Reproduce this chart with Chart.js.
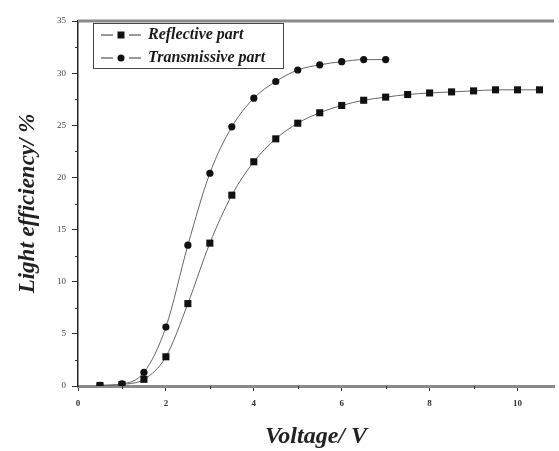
<!DOCTYPE html>
<html>
<head>
<meta charset="utf-8">
<script src="https://cdn.jsdelivr.net/npm/chart.js@4.4.1/dist/chart.umd.min.js"></script>
<style>
  html, body { margin: 0; padding: 0; background: #fff; }
  #wrap { width: 559px; height: 451px; }
</style>
</head>
<body>
<div id="wrap"><canvas id="efficiencyChart"></canvas></div>
<script>
// Data
const reflectiveVoltage = [0.5, 1, 1.5, 2, 2.5, 3, 3.5, 4, 4.5, 5, 5.5, 6, 6.5, 7, 7.5, 8, 8.5, 9, 9.5, 10, 10.5];
const reflectiveEff = [0.05, 0.15, 0.64, 2.8, 7.9, 13.7, 18.3, 21.5, 23.7, 25.2, 26.2, 26.9, 27.4, 27.7, 27.95, 28.1, 28.2, 28.3, 28.4, 28.4, 28.4];

const transmissiveVoltage = [0.5, 1, 1.5, 2, 2.5, 3, 3.5, 4, 4.5, 5, 5.5, 6, 6.5, 7];
const transmissiveEff = [0.06, 0.2, 1.3, 5.65, 13.5, 20.4, 24.85, 27.6, 29.2, 30.3, 30.8, 31.1, 31.3, 31.3];

const seriesLabels = ['Reflective part', 'Transmissive part'];
const xTicksMajor = [0, 2, 4, 6, 8, 10];
const xTicksMinor = [1, 3, 5, 7, 9];
const yTicksMinor = [2.5, 7.5, 12.5, 17.5, 22.5, 27.5, 32.5];

const serif = "'Liberation Serif', 'Times New Roman', serif";

function toPoints(xs, ys) {
    return xs.map((x, i) => ({ x, y: ys[i] }));
}

// Short minor ticks + heavy top frame line
const framePlugin = {
    id: 'frame',
    afterDraw(chart) {
        const { ctx, chartArea, scales } = chart;
        ctx.save();
        ctx.strokeStyle = '#8a8a8a';
        ctx.lineWidth = 3;
        ctx.beginPath();
        ctx.moveTo(chartArea.left, chartArea.top);
        ctx.lineTo(chartArea.right, chartArea.top);
        ctx.stroke();

        ctx.strokeStyle = '#333';
        ctx.lineWidth = 1;
        xTicksMinor.forEach(v => {
            const px = Math.round(scales.x.getPixelForValue(v)) + 0.5;
            ctx.beginPath();
            ctx.moveTo(px, chartArea.bottom);
            ctx.lineTo(px, chartArea.bottom + 3);
            ctx.stroke();
        });
        yTicksMinor.forEach(v => {
            const py = Math.round(scales.y.getPixelForValue(v)) + 0.5;
            ctx.beginPath();
            ctx.moveTo(chartArea.left, py);
            ctx.lineTo(chartArea.left - 3, py);
            ctx.stroke();
        });
        ctx.restore();
    }
};

// Boxed legend in the upper left corner
const boxLegendPlugin = {
    id: 'boxLegend',
    afterDraw(chart, args, opts) {
        const { ctx } = chart;
        ctx.save();
        ctx.strokeStyle = '#444';
        ctx.lineWidth = 1;
        ctx.strokeRect(opts.left + 0.5, opts.top + 0.5, opts.width, opts.height);
        ctx.font = "italic bold 16px " + serif;
        ctx.textBaseline = 'middle';
        chart.data.datasets.forEach((ds, i) => {
            const y = opts.top + opts.rowStart + i * opts.rowGap;
            const x0 = opts.left + 8;
            ctx.strokeStyle = '#333';
            ctx.beginPath();
            ctx.moveTo(x0, y);
            ctx.lineTo(x0 + 12, y);
            ctx.moveTo(x0 + 28, y);
            ctx.lineTo(x0 + 40, y);
            ctx.stroke();
            ctx.fillStyle = '#111';
            ctx.beginPath();
            if (ds.pointStyle === 'rect') {
                ctx.rect(x0 + 16.5, y - 3.5, 7, 7);
            } else {
                ctx.arc(x0 + 20, y, 3.5, 0, Math.PI * 2);
            }
            ctx.fill();
            ctx.fillStyle = '#1a1a1a';
            ctx.fillText(ds.label, x0 + 47, y);
        });
        ctx.restore();
    }
};

const ctx = document.getElementById('efficiencyChart').getContext('2d');
new Chart(ctx, {
    type: 'line',
    data: {
        datasets: [
            {
                label: seriesLabels[0],
                data: toPoints(reflectiveVoltage, reflectiveEff),
                borderColor: '#666',
                borderWidth: 1,
                backgroundColor: '#111',
                pointStyle: 'rect',
                pointRadius: 5,
                pointBorderWidth: 0,
                cubicInterpolationMode: 'monotone',
                fill: false
            },
            {
                label: seriesLabels[1],
                data: toPoints(transmissiveVoltage, transmissiveEff),
                borderColor: '#666',
                borderWidth: 1,
                backgroundColor: '#111',
                pointStyle: 'circle',
                pointRadius: 3.6,
                pointBorderWidth: 0,
                cubicInterpolationMode: 'monotone',
                fill: false
            }
        ]
    },
    options: {
        responsive: true,
        maintainAspectRatio: false,
        animation: false,
        layout: { padding: { top: 21, right: 0, left: 0, bottom: 0 } },
        plugins: {
            legend: { display: false },
            tooltip: { enabled: false },
            boxLegend: { left: 93, top: 23, width: 190, height: 45, rowStart: 12, rowGap: 23 }
        },
        scales: {
            x: {
                type: 'linear',
                min: 0,
                max: 10.83,
                afterFit: (s) => { s.height = 65; },
                afterBuildTicks: (s) => { s.ticks = xTicksMajor.map(v => ({ value: v })); },
                border: { color: '#8a8a8a', width: 3 },
                grid: { drawOnChartArea: false, tickLength: 5, tickColor: '#333', tickWidth: 1 },
                ticks: {
                    includeBounds: false,
                    maxRotation: 0,
                    padding: 7,
                    color: '#333',
                    font: { family: serif, size: 9, weight: 'bold' }
                },
                title: {
                    display: true,
                    text: 'Voltage/ V',
                    color: '#222',
                    padding: { top: 0, bottom: 0 },
                    font: { family: serif, size: 24, weight: 'bold', style: 'italic' }
                }
            },
            y: {
                min: 0,
                max: 35,
                afterFit: (s) => { s.width = 78; },
                border: { color: '#222', width: 1.5 },
                grid: { drawOnChartArea: false, tickLength: 6, tickColor: '#333', tickWidth: 1 },
                ticks: {
                    stepSize: 5,
                    padding: 6,
                    color: '#444',
                    font: { family: serif, size: 9 }
                },
                title: {
                    display: true,
                    text: 'Light efficiency/ %',
                    color: '#222',
                    padding: { top: 14, bottom: 0 },
                    font: { family: serif, size: 23, weight: 'bold', style: 'italic' }
                }
            }
        }
    },
    plugins: [framePlugin, boxLegendPlugin]
});
</script>
</body>
</html>
